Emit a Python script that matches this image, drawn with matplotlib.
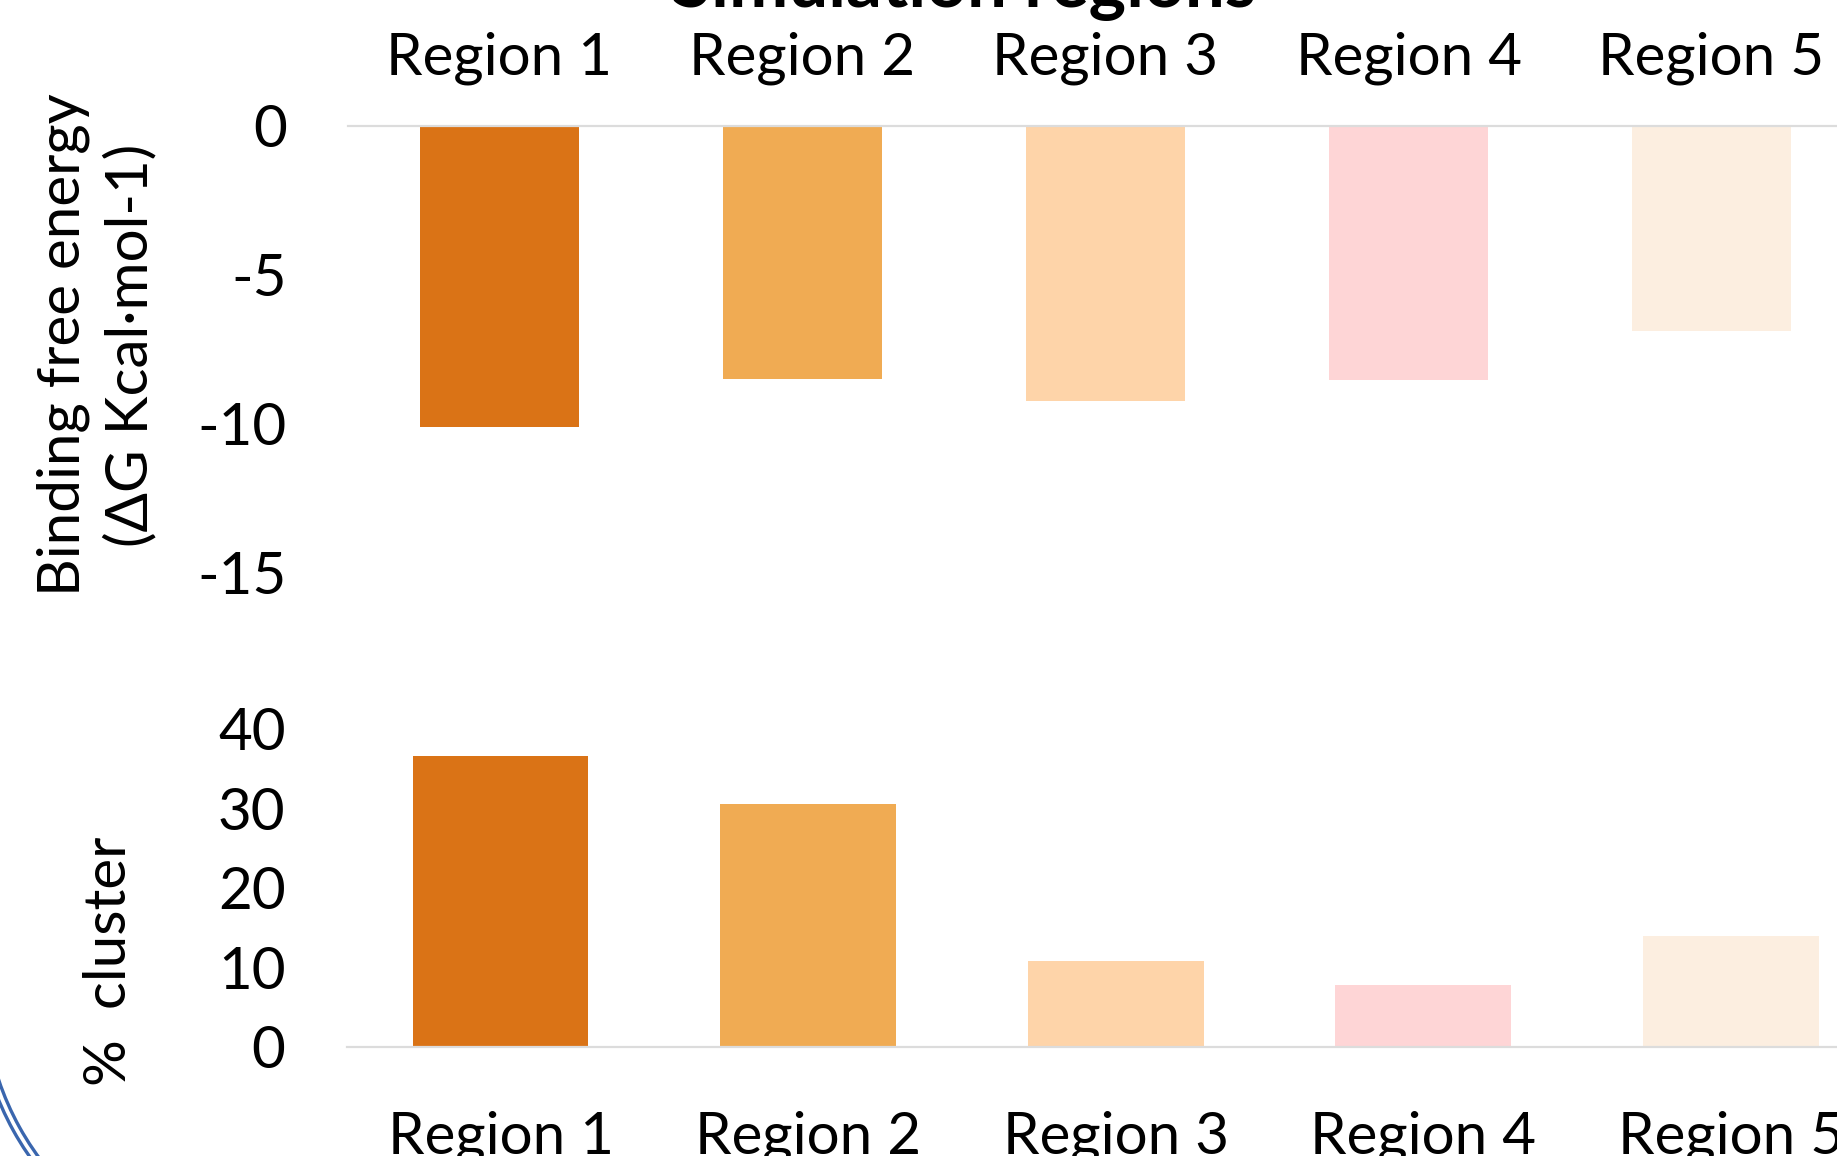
import matplotlib
matplotlib.use("Agg")
import matplotlib.pyplot as plt
from matplotlib.patches import Arc

plt.rcParams['font.family'] = ['Lato', 'DejaVu Sans']

regions = ["Region 1", "Region 2", "Region 3", "Region 4", "Region 5"]
binding_energy = [-10.1, -8.5, -9.25, -8.55, -6.9]
cluster_pct = [36.6, 30.6, 10.8, 7.75, 14.0]
energy_ticks = [0, -5, -10, -15]
cluster_ticks = [0, 10, 20, 30, 40]
colors = ["#DA7316", "#F0AB53", "#FED4A9", "#FED5D6", "#FCEEE0"]

W, H = 1837, 1156
FS = 42
axis_grey = "#DCDCDC"

fig = plt.figure(figsize=(W / 100, H / 100), dpi=100)

# top panel: binding free energy, categories on top
ax1 = fig.add_axes([348 / W, 1 - 572.7 / H, 1515 / W, 447 / H])
x = range(len(regions))
ax1.bar(x, binding_energy, width=0.528, color=colors)
ax1.set_xlim(-0.5, len(regions) - 0.5)
ax1.set_ylim(-15, 0)
ax1.set_yticks(energy_ticks)
ax1.set_yticklabels([str(t) for t in energy_ticks])
ax1.xaxis.tick_top()
ax1.set_xticks(list(x))
ax1.set_xticklabels(regions)
ax1.tick_params(axis='both', length=0, labelsize=FS)
ax1.tick_params(axis='y', pad=44)
ax1.tick_params(axis='x', pad=29)
for side in ["left", "right", "bottom"]:
    ax1.spines[side].set_visible(False)
ax1.spines["top"].set_color(axis_grey)
ax1.spines["top"].set_linewidth(1.6)

# bottom panel: % cluster
ax2 = fig.add_axes([346.7 / W, 1 - 1047 / H, 1538 / W, 318.1 / H])
ax2.bar(x, cluster_pct, width=0.572, color=colors)
ax2.set_xlim(-0.5, len(regions) - 0.5)
ax2.set_ylim(0, 40)
ax2.set_yticks(cluster_ticks)
ax2.set_yticklabels([str(t) for t in cluster_ticks])
ax2.set_xticks(list(x))
ax2.set_xticklabels(regions)
ax2.tick_params(axis='both', length=0, labelsize=FS)
ax2.tick_params(axis='y', pad=44)
ax2.tick_params(axis='x', pad=46)
for side in ["left", "right", "top"]:
    ax2.spines[side].set_visible(False)
ax2.spines["bottom"].set_color(axis_grey)
ax2.spines["bottom"].set_linewidth(1.6)

# titles / axis titles placed in figure coords
fig.text(963.5 / W, 1 - 7 / H, "Simulation regions", ha="center", va="baseline",
         fontsize=51, fontweight="bold")
fig.text(97 / W, 1 - 345 / H, "Binding free energy\n(ΔG Kcal·mol-1)", rotation=90,
         ha="center", va="center", multialignment="center", fontsize=FS, linespacing=1.3)
fig.text(109 / W, 1 - 961 / H, "%  cluster", rotation=90, ha="center", va="center",
         fontsize=FS)

# bit of a blue logo ring poking in at the bottom-left corner
for r in (290, 283):
    arc = Arc((267, H - 990), 2 * r, 2 * r, theta1=188, theta2=230,
              transform=None, color="#3A66AE", linewidth=2.4)
    fig.add_artist(arc)

fig.savefig("out.png", dpi=100)
